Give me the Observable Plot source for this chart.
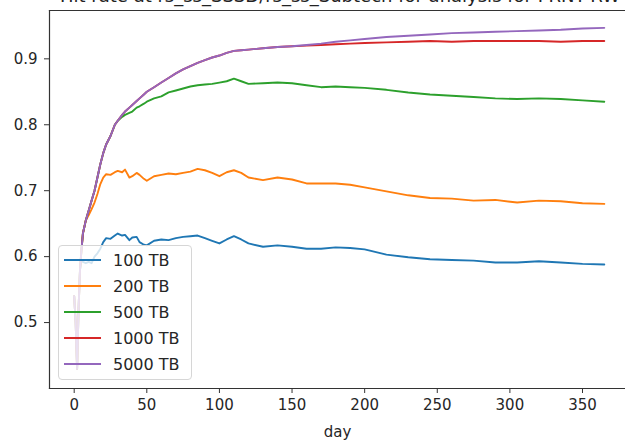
<!DOCTYPE html>
<html>
<head>
<meta charset="utf-8">
<script src="https://cdn.jsdelivr.net/npm/d3@7"></script>
<script src="https://cdn.jsdelivr.net/npm/@observablehq/plot@0.6"></script>
<style>
  html, body { margin: 0; padding: 0; background: white; }
  #wrap { position: relative; width: 625px; height: 441px; overflow: hidden; font-family: "DejaVu Sans", sans-serif; }
  #title { position: absolute; left: 340px; top: -15px; transform: translateX(-50%); white-space: nowrap; font-size: 18px; color: #222; }
  #legend { position: absolute; left: 58px; top: 245px; width: 134px; height: 135px; box-sizing: border-box;
    background: rgba(255,255,255,0.8); border: 1px solid #d6d6d6; border-radius: 4px; }
  .item { position: absolute; left: 0; height: 20px; display: flex; align-items: center; font-size: 16px; color: #262626; }
  .sw { width: 37px; height: 0; border-top: 2px solid; margin-left: 5px; margin-right: 12px; }
</style>
</head>
<body>
<div id="wrap">
  <div id="chart"></div>
  <div id="title"></div>
  <div id="legend"></div>
</div>
<script>
const titleText = "Hit rate at rs_ss_SSSD/rs_ss_Subtech for analysis for PRNT-RW";
const seriesNames = ["100 TB", "200 TB", "500 TB", "1000 TB", "5000 TB"];
const colors = ["#1f77b4", "#ff7f0e", "#2ca02c", "#d62728", "#9467bd"];
const xTicks = [0, 50, 100, 150, 200, 250, 300, 350];
const yTicks = [0.5, 0.6, 0.7, 0.8, 0.9];

const days = [0,1,2,3,4,5,6,8,10,12,14,16,18,20,22,25,28,30,33,35,38,40,43,45,48,50,
  55,60,65,70,75,80,85,90,95,100,105,110,115,120,130,140,150,160,170,180,190,200,
  215,230,245,260,275,290,305,320,335,350,365];

const hit100 = [0.54,0.50,0.43,0.52,0.58,0.595,0.592,
  0.59,0.592,0.59,0.6,0.605,0.612,0.622,0.628,
  0.627,0.632,0.635,0.632,0.633,0.625,0.629,0.63,0.622,0.618,0.617,
  0.624,0.626,0.625,0.628,0.630,0.631,0.632,0.628,0.624,0.62,0.626,0.631,0.626,0.62,
  0.615,0.617,0.615,0.612,0.612,0.614,0.613,0.611,
  0.603,0.599,0.596,0.595,0.594,0.591,0.591,0.593,0.591,0.589,0.588];

const hit200 = [0.54,0.50,0.43,0.52,0.58,0.61,0.635,
  0.655,0.663,0.672,0.682,0.695,0.71,0.72,0.725,
  0.724,0.728,0.73,0.728,0.732,0.72,0.722,0.727,0.724,0.718,0.715,
  0.722,0.724,0.726,0.725,0.727,0.729,0.733,0.731,0.727,0.722,0.728,0.731,0.727,0.72,
  0.716,0.72,0.717,0.711,0.711,0.711,0.709,0.705,
  0.699,0.693,0.689,0.688,0.685,0.686,0.682,0.685,0.684,0.681,0.680];

const hit500 = [0.54,0.50,0.43,0.52,0.58,0.61,0.635,
  0.655,0.67,0.685,0.70,0.72,0.74,0.757,0.77,
  0.783,0.80,0.806,0.812,0.815,0.818,0.82,0.826,0.828,0.832,0.835,
  0.84,0.843,0.849,0.852,0.855,0.858,0.86,0.861,0.862,0.864,0.866,0.870,0.866,0.862,
  0.863,0.864,0.863,0.86,0.857,0.858,0.857,0.856,
  0.853,0.849,0.846,0.844,0.842,0.840,0.839,0.840,0.839,0.837,0.835];

const hit1000 = [0.54,0.50,0.43,0.52,0.58,0.61,0.635,
  0.655,0.67,0.685,0.70,0.72,0.74,0.757,0.77,
  0.783,0.80,0.806,0.815,0.82,0.826,0.83,0.836,0.84,0.846,0.85,
  0.857,0.864,0.871,0.878,0.884,0.889,0.894,0.898,0.902,0.905,0.909,0.912,0.913,0.914,
  0.916,0.918,0.919,0.920,0.921,0.922,0.923,0.924,
  0.925,0.926,0.927,0.926,0.927,0.927,0.927,0.927,0.926,0.927,0.927];

const hit5000 = [0.54,0.50,0.43,0.52,0.58,0.61,0.635,
  0.655,0.67,0.685,0.70,0.72,0.74,0.757,0.77,
  0.783,0.80,0.806,0.815,0.82,0.826,0.83,0.836,0.84,0.846,0.85,
  0.857,0.864,0.871,0.878,0.884,0.889,0.894,0.898,0.902,0.905,0.909,0.912,0.913,0.914,
  0.916,0.918,0.919,0.921,0.923,0.926,0.928,0.930,
  0.933,0.935,0.937,0.939,0.940,0.941,0.942,0.943,0.944,0.946,0.947];

const seriesValues = [hit100, hit200, hit500, hit1000, hit5000];
const rows = [];
seriesNames.forEach((name, i) => {
  days.forEach((d, j) => rows.push({day: d, rate: seriesValues[i][j], size: name}));
});

const chart = Plot.plot({
  width: 625,
  height: 441,
  marginLeft: 49,
  marginRight: 0,
  marginTop: 10,
  marginBottom: 53,
  style: {fontFamily: "DejaVu Sans, sans-serif", fontSize: "15px", color: "#262626", background: "white", overflow: "visible"},
  x: {domain: [-17, 379.6]},
  y: {domain: [0.4, 0.9733]},
  color: {domain: seriesNames, range: colors},
  marks: [
    Plot.frame({anchor: "left", stroke: "#333", strokeWidth: 1.2}),
    Plot.frame({anchor: "top", stroke: "#333", strokeWidth: 1.2}),
    Plot.frame({anchor: "bottom", stroke: "#333", strokeWidth: 1.2}),
    Plot.axisX({ticks: xTicks, tickSize: 5, tickPadding: 6, label: "day", labelAnchor: "center", labelArrow: "none", labelOffset: 48, stroke: "#333"}),
    Plot.axisY({ticks: yTicks, tickSize: 5, tickPadding: 7, tickFormat: d => d.toFixed(1), label: null, stroke: "#333"}),
    Plot.line(rows, {x: "day", y: "rate", z: "size", stroke: "size", strokeWidth: 1.9, strokeLinejoin: "round"})
  ]
});
document.getElementById("chart").appendChild(chart);
document.getElementById("title").textContent = titleText;

const legend = document.getElementById("legend");
seriesNames.forEach((name, i) => {
  const item = document.createElement("div");
  item.className = "item";
  item.style.top = (4 + i * 26) + "px";
  const sw = document.createElement("div");
  sw.className = "sw";
  sw.style.borderTopColor = colors[i];
  const label = document.createElement("span");
  label.textContent = name;
  item.appendChild(sw);
  item.appendChild(label);
  legend.appendChild(item);
});
</script>
</body>
</html>
